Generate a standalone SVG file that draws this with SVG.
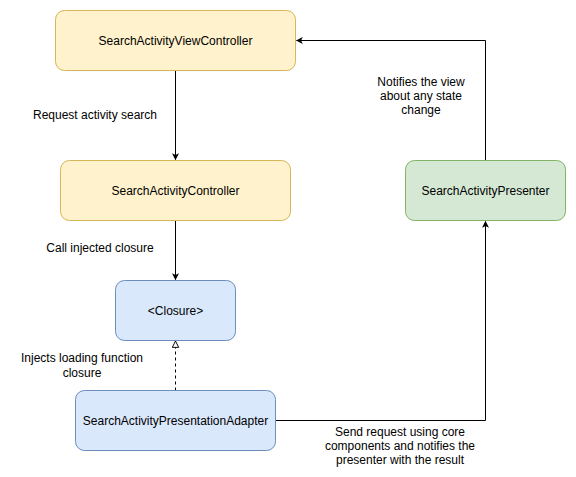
<svg xmlns="http://www.w3.org/2000/svg" width="576" height="477" viewBox="0 0 576 477">
<style>
text{font-family:"Liberation Sans",Arial,sans-serif;font-size:12px;fill:#000;text-anchor:middle;dominant-baseline:central}
.y{fill:#fff2cc;stroke:#d6b656}
.b{fill:#dae8fc;stroke:#6c8ebf}
.g{fill:#d5e8d4;stroke:#82b366}
.e{fill:none;stroke:#000;stroke-width:1}
</style>
<defs>
<marker id="arr" viewBox="0 0 10 10" refX="9" refY="5" markerWidth="7" markerHeight="7" orient="auto" markerUnits="userSpaceOnUse">
<path d="M0,0 L10,5 L0,10 L2.5,5 Z" fill="#000"/>
</marker>
<marker id="tri" viewBox="0 0 10 10" refX="9" refY="5" markerWidth="8" markerHeight="8" orient="auto" markerUnits="userSpaceOnUse">
<path d="M1,1 L9,5 L1,9 Z" fill="#fff" stroke="#000" stroke-width="1.2"/>
</marker>
</defs>
<rect width="576" height="477" fill="#fff"/>
<g id="connectors">
<path class="e" d="M175.5,70.5 V159.5" marker-end="url(#arr)"/>
<path class="e" d="M175.5,220.5 V279.5" marker-end="url(#arr)"/>
<path class="e" d="M175.5,390.5 V341" stroke-dasharray="3,3" marker-end="url(#tri)"/>
<path class="e" d="M485.5,160.5 V40.5 H296.5" marker-end="url(#arr)"/>
<path class="e" d="M275.5,420.5 H485.5 V221.5" marker-end="url(#arr)"/>
<text x="95" y="115">Request activity search</text>
<text x="421" y="82">Notifies the view</text>
<text x="421" y="96">about any state</text>
<text x="421" y="110">change</text>
<text x="100" y="248">Call injected closure</text>
<text x="82" y="358">Injects loading function</text>
<text x="82" y="373">closure</text>
<text x="400" y="432">Send request using core</text>
<text x="400" y="446">components and notifies the</text>
<text x="400" y="460">presenter with the result</text>
</g>
<g id="n1"><rect class="y" x="55.5" y="10.5" width="240" height="60" rx="9"/><text x="175.5" y="40.5">SearchActivityViewController</text></g>
<g id="n2"><rect class="y" x="60.5" y="160.5" width="230" height="60" rx="9"/><text x="175.5" y="190.5">SearchActivityController</text></g>
<g id="n3"><rect class="b" x="115.5" y="280.5" width="120" height="60" rx="9"/><text x="175.5" y="310.5">&lt;Closure&gt;</text></g>
<g id="n4"><rect class="b" x="75.5" y="390.5" width="200" height="60" rx="9"/><text x="175.5" y="420.5">SearchActivityPresentationAdapter</text></g>
<g id="n5"><rect class="g" x="405.5" y="160.5" width="160" height="60" rx="9"/><text x="485.5" y="190.5">SearchActivityPresenter</text></g>
</svg>
